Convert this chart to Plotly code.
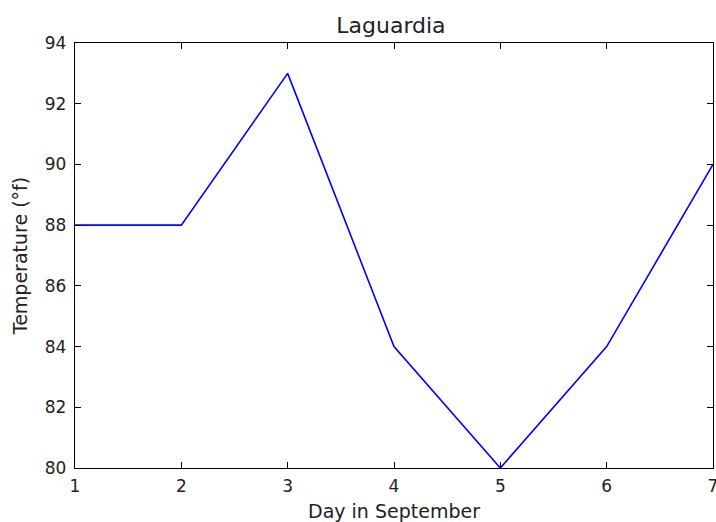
import plotly.graph_objects as go

days = [1, 2, 3, 4, 5, 6, 7]
temps = [88, 88, 93, 84, 80, 84, 90]
x_ticks = [1, 2, 3, 4, 5, 6, 7]
y_ticks = [80, 82, 84, 86, 88, 90, 92, 94]

FONT = "DejaVu Sans"
fig = go.Figure()
fig.add_trace(go.Scatter(x=days, y=temps, mode="lines",
                         line=dict(color="#0000ff", width=1.6)))

axis_common = dict(showgrid=False, zeroline=False, showline=True, linecolor="black",
                   linewidth=1.3, mirror="allticks", ticks="inside", ticklen=6,
                   tickcolor="black", tickwidth=1, automargin=False,
                   tickfont=dict(family=FONT, size=17, color="#222"))

fig.update_xaxes(range=[1, 7], tickvals=x_ticks, ticklabeloverflow="allow",
                 ticklabelstandoff=2,
                 title=dict(text="Day in September",
                            font=dict(family=FONT, size=19, color="#222"), standoff=11),
                 **axis_common)
fig.update_yaxes(range=[80, 94], tickvals=y_ticks, ticklabelstandoff=4,
                 title=dict(text="Temperature (°f)",
                            font=dict(family=FONT, size=19, color="#222"), standoff=12),
                 **axis_common)

fig.update_layout(
    width=716, height=522,
    margin=dict(l=75, r=3, t=43, b=54),
    paper_bgcolor="white", plot_bgcolor="white",
    showlegend=False,
    title=dict(text="Laguardia", x=0.546, xanchor="center", y=0.952, yanchor="middle",
               font=dict(family=FONT, size=22, color="#222")),
)

fig.write_html("out.html")
